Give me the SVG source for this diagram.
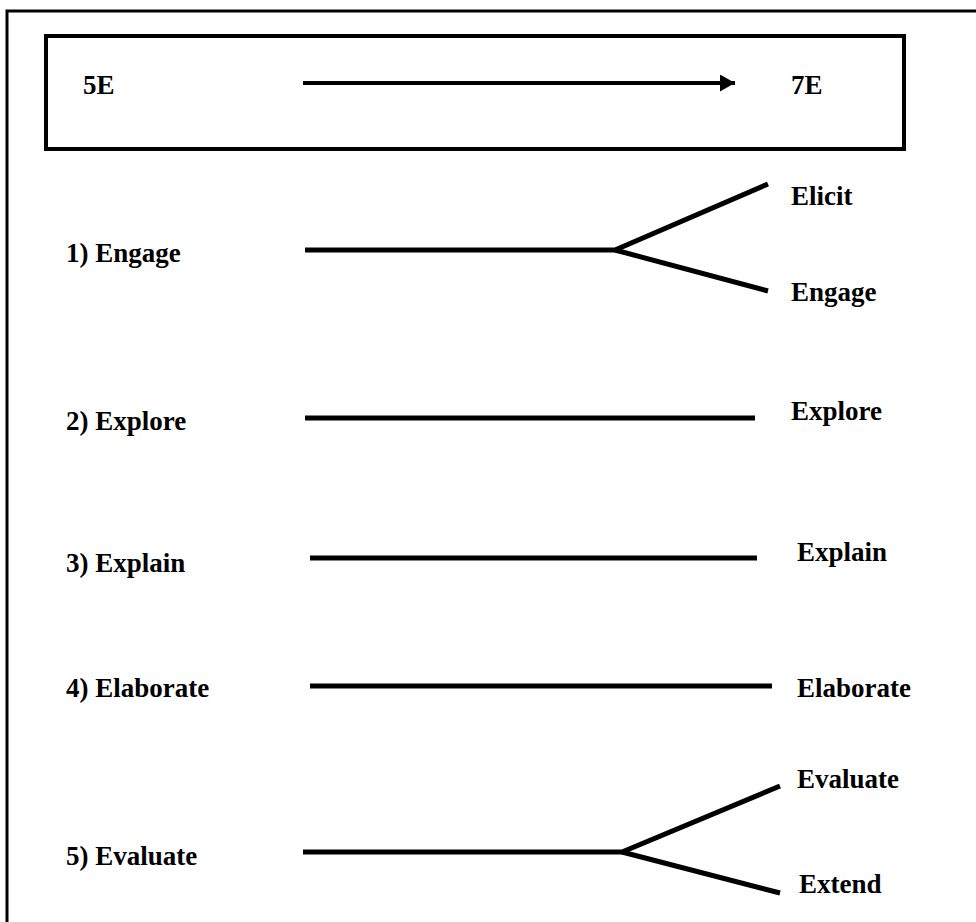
<svg xmlns="http://www.w3.org/2000/svg" width="976" height="922" viewBox="0 0 976 922">
<style>
.t{font-family:"Liberation Serif","DejaVu Serif",serif;font-weight:bold;font-size:27px;fill:#000}
.ln{stroke:#000;stroke-width:5;fill:none;stroke-linecap:butt;stroke-linejoin:miter}
.frame{stroke:#000;stroke-width:3;fill:none}
</style>
<defs>
<marker id="ah" viewBox="0 0 15 17" refX="15" refY="8.5" markerWidth="15" markerHeight="17" orient="auto" markerUnits="userSpaceOnUse">
<path d="M0,0 L15,8.5 L0,17 z" fill="#000"/>
</marker>
</defs>
<rect width="976" height="922" fill="#fff"/>
<g id="frame">
<path class="frame" d="M7,930 V11 H990"/>
</g>
<g id="header">
<rect x="46" y="36" width="858" height="113" fill="none" stroke="#000" stroke-width="4"/>
<text class="t" x="83" y="94">5E</text>
<text class="t" x="791" y="94">7E</text>
</g>
<g id="left-labels">
<text class="t" x="66" y="262">1) Engage</text>
<text class="t" x="66" y="430">2) Explore</text>
<text class="t" x="66" y="572">3) Explain</text>
<text class="t" x="66" y="697">4) Elaborate</text>
<text class="t" x="66" y="865">5) Evaluate</text>
</g>
<g id="right-labels">
<text class="t" x="791" y="205">Elicit</text>
<text class="t" x="791" y="301">Engage</text>
<text class="t" x="791" y="420">Explore</text>
<text class="t" x="797" y="561">Explain</text>
<text class="t" x="797" y="697">Elaborate</text>
<text class="t" x="797" y="788">Evaluate</text>
<text class="t" x="799" y="893">Extend</text>
</g>
<g id="connectors">
<line x1="303" y1="83" x2="735" y2="83" stroke="#000" stroke-width="4" marker-end="url(#ah)"/>
<path class="ln" d="M305,250 H615 L768,184"/>
<path class="ln" d="M615,250 L768,291"/>
<line class="ln" x1="305" y1="418" x2="755" y2="418"/>
<line class="ln" x1="310" y1="558" x2="757" y2="558"/>
<line class="ln" x1="310" y1="686" x2="772" y2="686"/>
<path class="ln" d="M303,852 H622 L780,786"/>
<path class="ln" d="M622,852 L780,893"/>
</g>
</svg>
